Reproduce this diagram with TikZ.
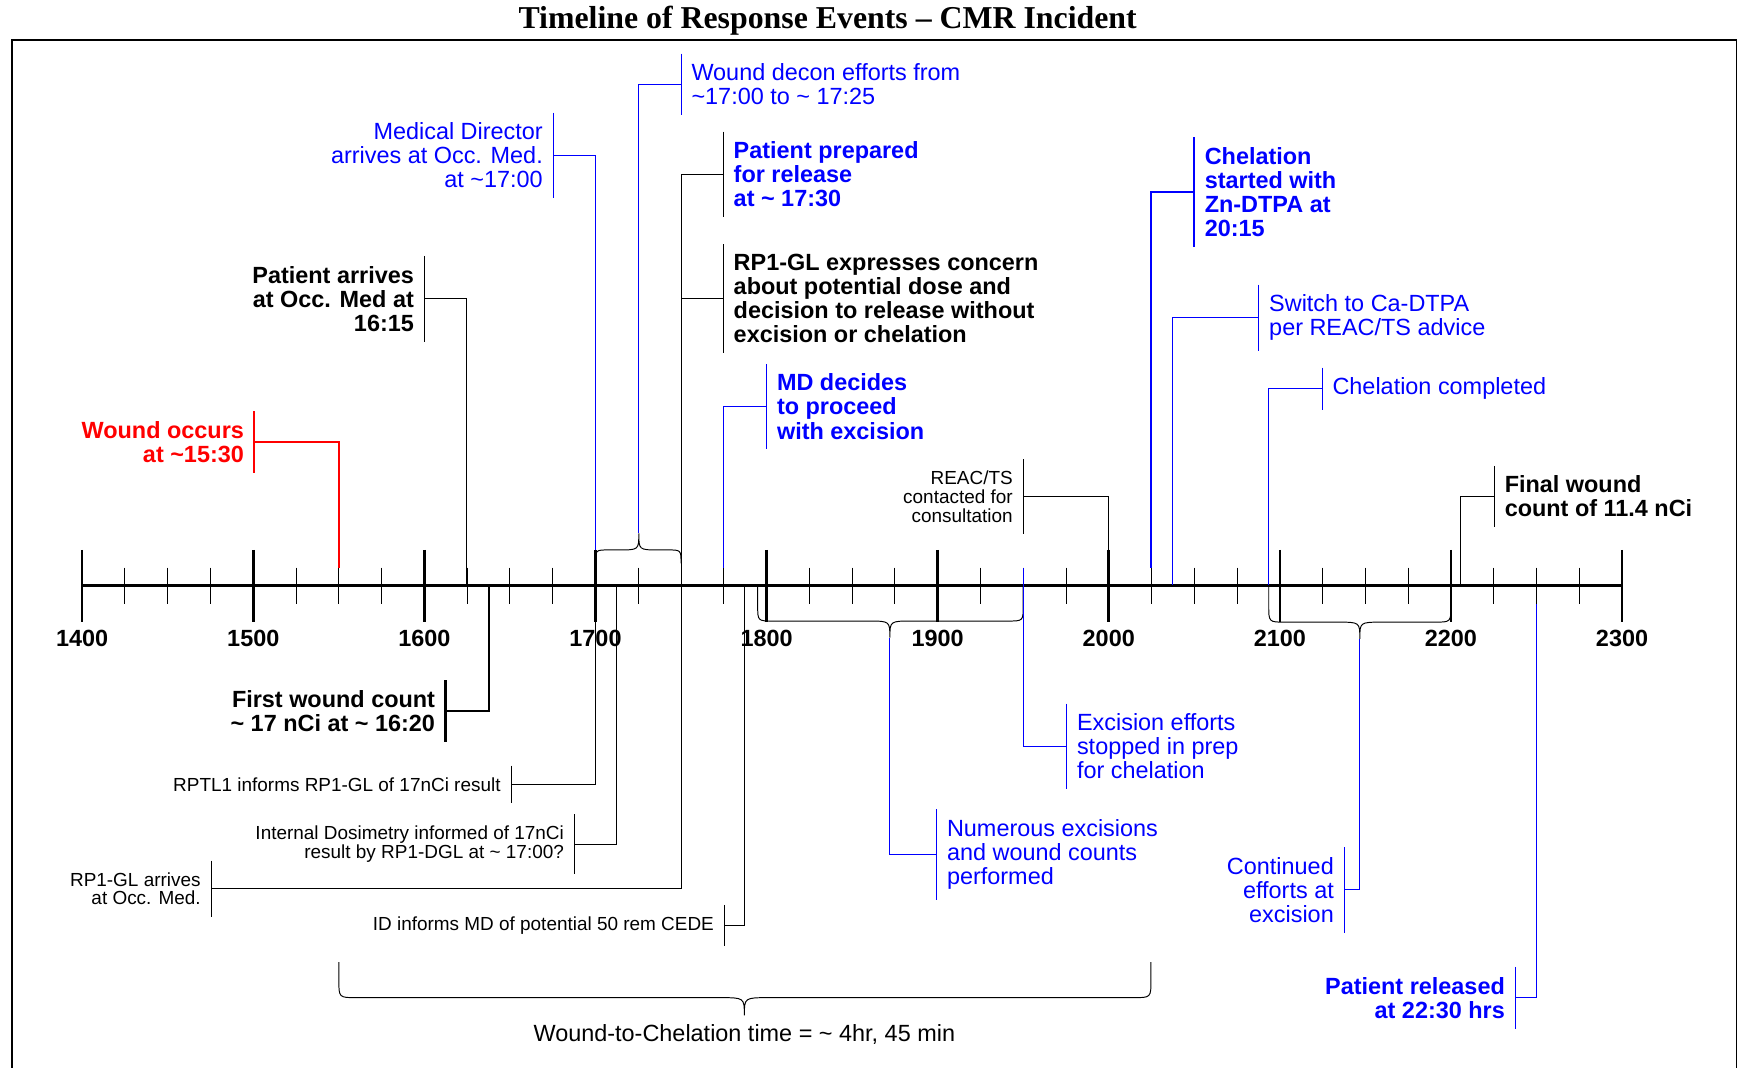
\documentclass[tikz,border=0pt]{standalone}
\usepackage{fontspec}
\setmainfont{Liberation Sans}
\newfontfamily\titlefont{Liberation Serif}

\begin{document}
\begin{tikzpicture}[x=0.2mm,y=-0.2mm,line width=0.5pt,
  lbl/.style={inner xsep=1.8mm,inner ysep=5pt,font=\fontsize{12}{12.3}\selectfont},
  lblb/.style={lbl,font=\fontsize{12}{12.3}\selectfont\bfseries},
  note/.style={inner xsep=1.8mm,inner ysep=5.8pt,font=\fontsize{9.7}{9.6}\selectfont},
  lt/.style={anchor=west,align=left},
  rt/.style={anchor=east,align=right},
  heavy/.style={line width=1.1pt}]
\useasboundingbox (0,0) rectangle (1568,961);

\node[font=\titlefont\fontsize{16.3}{19}\selectfont\bfseries] (title) at (745,19) {Timeline of Response Events – CMR Incident};
\draw[line width=0.8pt] (11,961) -- (11,36) -- (1563,36) -- (1563,961);

% time axis
\draw[line width=1.3pt] (74,527) -- (1460,527);
\foreach \h/\yr in {0/1400,1/1500,2/1600,3/1700,4/1800,5/1900,6/2000,7/2100,8/2200,9/2300} {
  \draw[line width=1.3pt] (74+154*\h,495) -- (74+154*\h,560);
  \node[font=\fontsize{12}{14}\selectfont\bfseries] (yr\yr) at (74+154*\h,575) {\yr};
}
\foreach \h in {0,...,8}
  \foreach \q in {1,2,3}
    \draw (74+154*\h+38.5*\q,511) -- (74+154*\h+38.5*\q,543.6);

% points on the axis
\coordinate (w1530) at (305,511);
\coordinate (t1615) at (420,527);
\coordinate (t1620) at (440,527);
\coordinate (t1700) at (536,495);
\coordinate (t1700b) at (536,527);
\coordinate (t1707) at (555,527);
\coordinate (t1730) at (613,527);
\coordinate (t1745) at (651,511);
\coordinate (t1752) at (670,527);
\coordinate (t1930) at (921,511);
\coordinate (t2000) at (998,495);
\coordinate (t2015) at (1036,511);
\coordinate (t2022) at (1055,527);
\coordinate (t2056) at (1142,527);
\coordinate (t2204) at (1315,527);
\coordinate (t2230) at (1383,543.6);
\coordinate (dtip) at (575,480);
\coordinate (btip1) at (801,574);
\coordinate (btip2) at (1224,575);

% braces
\draw (536,507) .. controls (536,495) .. (548,495) -- (557,495) .. controls (575,495) .. (dtip) .. controls (575,495) .. (593,495) -- (601,495) .. controls (613,495) .. (613,507);
\draw (682,527) -- (682,545) .. controls (682,559) .. (696,559) -- (781,559) .. controls (801,559) .. (btip1) .. controls (801,559) .. (821,559) -- (907,559) .. controls (921,559) .. (921,545) -- (921,527);
\draw (1142,527) -- (1142,545) .. controls (1142,560) .. (1157,560) -- (1204,560) .. controls (1224,560) .. (btip2) .. controls (1224,560) .. (1244,560) -- (1291,560) .. controls (1306,560) .. (1306,545) -- (1306,527);
\draw (305,866) -- (305,882) .. controls (305,898) .. (321,898) -- (648,898) .. controls (670,898) .. (670,914) .. controls (670,898) .. (692,898) -- (1020,898) .. controls (1036,898) .. (1036,882) -- (1036,866);
\node[font=\fontsize{12}{14}\selectfont] (w2c) at (670,931) {Wound-to-Chelation time = \textasciitilde{} 4hr, 45 min};

% events above the axis
\node[lblb,rt,text=red] (wound) at (229,398) {Wound occurs\\at \textasciitilde15:30};
\draw[red,heavy] (wound.north east) -- (wound.south east) (wound.east) -| (w1530);

\node[lblb,rt] (parr) at (382,269) {Patient arrives\\at Occ. Med at\\16:15};
\draw (parr.north east) -- (parr.south east) (parr.east) -| (t1615);

\node[lbl,rt,text=blue] (mdarr) at (498,140) {Medical Director\\arrives at Occ. Med.\\at \textasciitilde17:00};
\draw[blue] (mdarr.north east) -- (mdarr.south east) (mdarr.east) -| (t1700);

\node[lbl,lt,text=blue] (decon) at (613,76) {Wound decon efforts from\\\textasciitilde17:00 to \textasciitilde{} 17:25};
\draw[blue] (decon.north west) -- (decon.south west) (decon.west) -| (dtip);

\node[lblb,lt,text=blue] (prep) at (651,157) {Patient prepared\\for release\\at \textasciitilde{} 17:30};
\draw (prep.north west) -- (prep.south west) (prep.west) -| (t1730);

\node[lblb,lt] (conc) at (651,269) {RP1-GL expresses concern\\about potential dose and\\decision to release without\\excision or chelation};
\draw (conc.north west) -- (conc.south west) (conc.west) -| (t1730);

\node[lblb,lt,text=blue] (mddec) at (690,366) {MD decides\\to proceed\\with excision};
\draw[blue] (mddec.north west) -- (mddec.south west) (mddec.west) -| (t1745);

\node[note,rt] (reac) at (921,447) {REAC/TS\\contacted for\\consultation};
\draw (reac.north east) -- (reac.south east) (reac.east) -| (t2000);

\node[lblb,lt,text=blue] (chel) at (1075,173) {Chelation\\started with\\Zn-DTPA at\\20:15};
\draw[blue,heavy] (chel.north west) -- (chel.south west) (chel.west) -| (t2015);

\node[lbl,lt,text=blue] (cadtpa) at (1133,286) {Switch to Ca-DTPA\\per REAC/TS advice};
\draw[blue] (cadtpa.north west) -- (cadtpa.south west) (cadtpa.west) -| (t2022);

\node[lbl,lt,text=blue] (chdone) at (1190,350) {Chelation completed};
\draw[blue] (chdone.north west) -- (chdone.south west) (chdone.west) -| (t2056);

\node[lblb,lt] (final) at (1345,447) {Final wound\\count of 11.4 nCi};
\draw (final.north west) -- (final.south west) (final.west) -| (t2204);

% events below the axis
\node[lblb,rt] (first) at (401,640) {First wound count\\\textasciitilde{} 17 nCi at \textasciitilde{} 16:20};
\draw[heavy] (first.north east) -- (first.south east) (first.east) -| (t1620);

\node[note,rt] (rptl) at (460,706) {RPTL1 informs RP1-GL of 17nCi result};
\draw (rptl.north east) -- (rptl.south east) (rptl.east) -| (t1700b);

\node[note,rt] (intdos) at (517,760) {Internal Dosimetry informed of 17nCi\\result by RP1-DGL at \textasciitilde{} 17:00?};
\draw (intdos.north east) -- (intdos.south east) (intdos.east) -| (t1707);

\node[note,rt] (rp1arr) at (190,800) {RP1-GL arrives\\at Occ. Med.};
\draw (rp1arr.north east) -- (rp1arr.south east) (rp1arr.east) -| (t1730);

\node[note,rt] (idmd) at (652,833) {ID informs MD of potential 50 rem CEDE};
\draw (idmd.north east) -- (idmd.south east) (idmd.east) -| (t1752);

\node[lbl,lt,text=blue] (numer) at (843,769) {Numerous excisions\\and wound counts\\performed};
\draw[blue] (numer.north west) -- (numer.south west) (numer.west) -| (btip1);

\node[lbl,lt,text=blue] (exstop) at (960,672) {Excision efforts\\stopped in prep\\for chelation};
\draw[blue] (exstop.north west) -- (exstop.south west) (exstop.west) -| (t1930);

\node[lbl,rt,text=blue] (contin) at (1210,801) {Continued\\efforts at\\excision};
\draw[blue] (contin.north east) -- (contin.south east) (contin.east) -| (btip2);

\node[lblb,rt,text=blue] (rel) at (1364,898) {Patient released\\at 22:30 hrs};
\draw[blue] (rel.north east) -- (rel.south east) (rel.east) -| (t2230);
\end{tikzpicture}
\end{document}
